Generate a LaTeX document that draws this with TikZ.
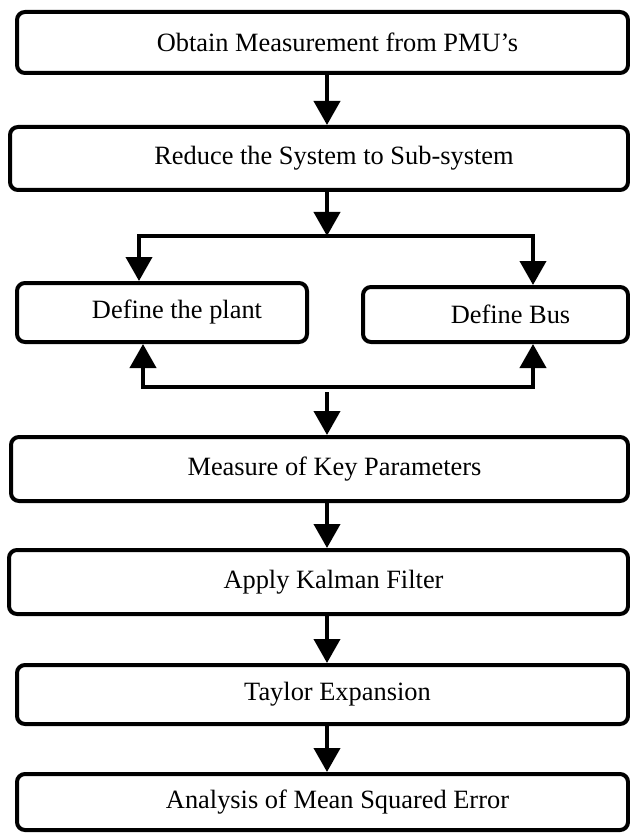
\documentclass[tikz,border=0pt]{standalone}
\usepackage{fontspec}
\setmainfont{Liberation Serif}
\usetikzlibrary{arrows.meta,calc}

\tikzset{
	stage/.style={draw=black, line width=2pt, rounded corners=4pt, inner sep=0pt},
	stagetext/.style={xshift=7.5pt, font=\fontsize{13.2}{16}\selectfont},
	flow/.style={line width=2pt, -{Triangle[length=12pt,width=13pt]}},
}

\begin{document}
\begin{tikzpicture}[x=0.5pt, y={(0pt,-0.5pt)}]
	\useasboundingbox (0,0) rectangle (630,834);
	\node[stage, minimum width=305.5pt, minimum height=30.5pt, label={[stagetext]center:Obtain Measurement from PMU's}] (obtain) at (322.5,42.5) {};
	\node[stage, minimum width=309pt, minimum height=31.5pt, label={[stagetext]center:Reduce the System to Sub-system}] (reduce) at (319,158.5) {};
	\node[stage, minimum width=145pt, minimum height=29.5pt, label={[stagetext]center:Define the plant}] (plant) at (162,312.5) {};
	\node[stage, minimum width=132.5pt, minimum height=27.5pt, label={[stagetext]center:Define Bus}] (bus) at (495.5,314.5) {};
	\node[stage, minimum width=308.5pt, minimum height=32pt, label={[stagetext]center:Measure of Key Parameters}] (measure) at (319.5,469) {};
	\node[stage, minimum width=309.5pt, minimum height=32pt, label={[stagetext]center:Apply Kalman Filter}] (kalman) at (318.5,582) {};
	\node[stage, minimum width=305.5pt, minimum height=29.5pt, label={[stagetext]center:Taylor Expansion}] (taylor) at (322.5,694.5) {};
	\node[stage, minimum width=305.5pt, minimum height=28pt, label={[stagetext]center:Analysis of Mean Squared Error}] (mse) at (322.5,802) {};
	\coordinate (spine) at (327,0);
	\coordinate (fork) at (327,236);
	\coordinate (join) at (327,387);
	\draw[flow] (obtain.south -| spine) -- (reduce.north -| spine);
	\draw[flow] (reduce.south -| spine) -- (fork);
	\draw[flow] (fork) -| ($(plant.north)+(-23,0)$);
	\draw[flow] (fork) -| ($(bus.north)+(37.5,0)$);
	\draw[flow] (join) -| ($(plant.south)+(-19,0)$);
	\draw[flow] (join) -| ($(bus.south)+(37.5,0)$);
	\draw[flow] ($(join)+(0,5)$) -- (measure.north -| spine);
	\draw[flow] (measure.south -| spine) -- (kalman.north -| spine);
	\draw[flow] (kalman.south -| spine) -- (taylor.north -| spine);
	\draw[flow] (taylor.south -| spine) -- (mse.north -| spine);
\end{tikzpicture}
\end{document}
